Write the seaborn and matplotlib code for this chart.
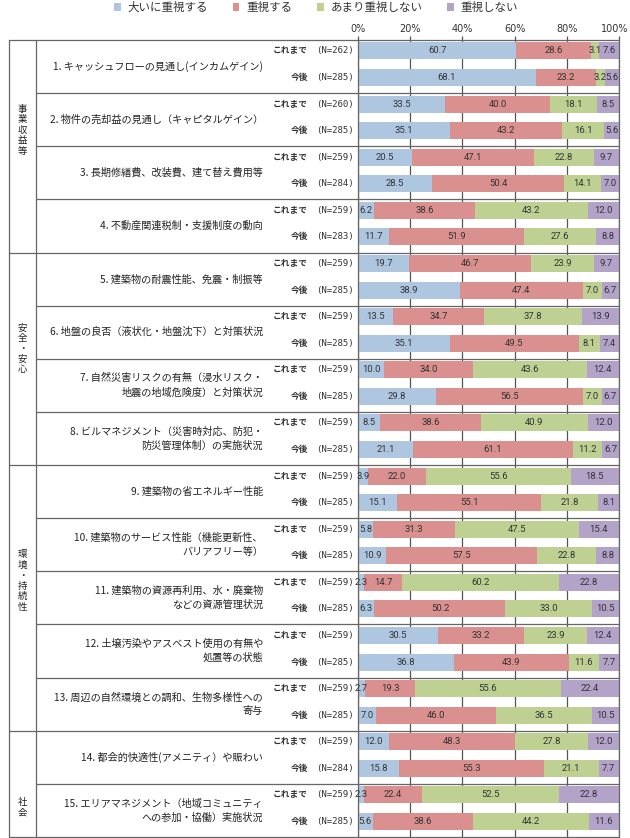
import numpy as np
import pandas as pd
import matplotlib
matplotlib.use('Agg')
import matplotlib.pyplot as plt
import matplotlib.transforms as mtransforms
import seaborn as sns

# answer levels and colours
levels = ['大いに重視する', '重視する', 'あまり重視しない', '重視しない']
level_colors = ['#afc6e1', '#d9908e', '#bed193', '#b3a3c9']

# item labels (two rows each: これまで / 今後)
items = [
    '1. キャッシュフローの見通し(インカムゲイン)',
    '2. 物件の売却益の見通し（キャピタルゲイン）',
    '3. 長期修繕費、改装費、建て替え費用等',
    '4. 不動産関連税制・支援制度の動向',
    '5. 建築物の耐震性能、免震・制振等',
    '6. 地盤の良否（液状化・地盤沈下）と対策状況',
    '7. 自然災害リスクの有無（浸水リスク・\n地震の地域危険度）と対策状況',
    '8. ビルマネジメント（災害時対応、防犯・\n防災管理体制）の実施状況',
    '9. 建築物の省エネルギー性能',
    '10. 建築物のサービス性能（機能更新性、\nバリアフリー等）',
    '11. 建築物の資源再利用、水・廃棄物\nなどの資源管理状況',
    '12. 土壌汚染やアスベスト使用の有無や\n処置等の状態',
    '13. 周辺の自然環境との調和、生物多様性への\n寄与',
    '14. 都会的快適性(アメニティ）や賑わい',
    '15. エリアマネジメント（地域コミュニティ\nへの参加・協働）実施状況',
]
periods = ['これまで', '今後']
n_sizes = [262, 285, 260, 285, 259, 284, 259, 283, 259, 285,
           259, 285, 259, 285, 259, 285, 259, 285, 259, 285,
           259, 285, 259, 285, 259, 285, 259, 284, 259, 285]

# groups of items
groups = ['事業収益等', '安全・安心', '環境・持続性', '社会']
group_sizes = [4, 4, 5, 2]

# percentages, row order = item1 これまで, item1 今後, item2 これまで, ...
very_important = [60.7, 68.1, 33.5, 35.1, 20.5, 28.5, 6.2, 11.7, 19.7, 38.9,
                  13.5, 35.1, 10.0, 29.8, 8.5, 21.1, 3.9, 15.1, 5.8, 10.9,
                  2.3, 6.3, 30.5, 36.8, 2.7, 7.0, 12.0, 15.8, 2.3, 5.6]
important = [28.6, 23.2, 40.0, 43.2, 47.1, 50.4, 38.6, 51.9, 46.7, 47.4,
             34.7, 49.5, 34.0, 56.5, 38.6, 61.1, 22.0, 55.1, 31.3, 57.5,
             14.7, 50.2, 33.2, 43.9, 19.3, 46.0, 48.3, 55.3, 22.4, 38.6]
not_very = [3.1, 3.2, 18.1, 16.1, 22.8, 14.1, 43.2, 27.6, 23.9, 7.0,
            37.8, 8.1, 43.6, 7.0, 40.9, 11.2, 55.6, 21.8, 47.5, 22.8,
            60.2, 33.0, 23.9, 11.6, 55.6, 36.5, 27.8, 21.1, 52.5, 44.2]
not_important = [7.6, 5.6, 8.5, 5.6, 9.7, 7.0, 12.0, 8.8, 9.7, 6.7,
                 13.9, 7.4, 12.4, 6.7, 12.0, 6.7, 18.5, 8.1, 15.4, 8.8,
                 22.8, 10.5, 12.4, 7.7, 22.4, 10.5, 12.0, 7.7, 22.8, 11.6]

sns.set_style('white')
plt.rcParams['font.family'] = ['Noto Sans CJK JP', 'DejaVu Sans']

W, H = 630, 838
fig = plt.figure(figsize=(W / 100, H / 100), dpi=100)
ax = fig.add_axes([358 / W, 1 - 837 / H, 261 / W, 797 / H])

df = pd.DataFrame({
    'row': [f'r{i:02d}' for i in range(len(n_sizes))],
    levels[0]: very_important,
    levels[1]: important,
    levels[2]: not_very,
    levels[3]: not_important,
})
cum = df[levels].cumsum(axis=1)

# stacked bars: draw cumulative totals from the longest to the shortest
for k in reversed(range(len(levels))):
    sns.barplot(x=cum[levels[k]], y=df['row'], order=df['row'], orient='h',
                color=level_colors[k], saturation=1, width=0.64,
                errorbar=None, linewidth=0, label=levels[k], ax=ax)
if ax.get_legend() is not None:
    ax.get_legend().remove()

top = -0.414
ax.set_xlim(0, 100)
ax.set_ylim(len(df) + top, top)
ax.set_xticks([0, 20, 40, 60, 80, 100])
ax.set_xticklabels(['0%', '20%', '40%', '60%', '80%', '100%'])
ax.xaxis.tick_top()
ax.tick_params(axis='x', length=3, width=0.9, color='#555555', pad=1.5,
               labelsize=7, labelcolor='#333333')
for lbl in ax.get_xticklabels():
    lbl.set_family('DejaVu Sans')
xt = ax.get_xticklabels()[-1]
xt.set_transform(xt.get_transform() + mtransforms.ScaledTranslation(-4 / 100, 0, fig.dpi_scale_trans))
ax.set_yticks([])
ax.set_xlabel('')
ax.set_ylabel('')
ax.grid(axis='x', color='#555555', lw=0.9)
ax.grid(axis='y', visible=False)
ax.set_axisbelow(True)
for sp in ax.spines.values():
    sp.set_visible(False)

# value labels
for i in range(len(df)):
    left = 0
    for lev in levels:
        v = df.loc[i, lev]
        ax.text(left + v / 2, i, f'{v:.1f}', ha='center', va='center',
                fontsize=6.8, color='#333333', family='Roboto')
        left += v

trans = mtransforms.blended_transform_factory(ax.transAxes, ax.transData)


def fx(px):
    return (px - 358) / 261


# row labels
for i, n in enumerate(n_sizes):
    ax.text(fx(354), i, f'(N={n})', ha='right', va='center', fontsize=6.5,
            family='DejaVu Sans Mono', color='#333333', transform=trans)
    ax.text(fx(308), i, periods[i % 2], ha='right', va='center', fontsize=6.3,
            fontweight='bold', color='#333333', transform=trans)

# item labels
for j, lab in enumerate(items):
    ax.text(fx(263), 2 * j + 1 + top, lab, ha='right', va='center', fontsize=7.3,
            linespacing=1.45, multialignment='right', color='#222222', transform=trans)

# table lines
line_kw = dict(color='#666666', lw=0.9, clip_on=False, transform=trans)
bounds = np.cumsum([0] + group_sizes)
for j in range(len(items) + 1):
    x0 = fx(8.5) if j in bounds else fx(36)
    ax.plot([x0, 1], [2 * j + top, 2 * j + top], **line_kw)
for xv in [fx(8.5), fx(36), 0, 1]:
    ax.plot([xv, xv], [top, len(df) + top], **line_kw)

# group labels, written vertically
group_center_px = [130.5, 349, 581, 808]
pitch = 10.5
for g, cpx in zip(groups, group_center_px):
    n = len(g)
    for c_i, ch in enumerate(g):
        py = cpx + (c_i - (n - 1) / 2) * pitch
        ax.text(fx(22.5), (py - 40) / 26.57 + top, ch, ha='center', va='center',
                fontsize=6.8, color='#222222', transform=trans)

handles, labels = ax.get_legend_handles_labels()
fig.legend(handles[::-1], labels[::-1], loc='center',
           bbox_to_anchor=(316 / W, 1 - 7.5 / H), ncol=4, frameon=False,
           fontsize=8.3, handlelength=0.6, handleheight=0.6, handletextpad=0.6,
           columnspacing=2.1, borderpad=0, labelcolor='#333333')

fig.savefig('out.png', dpi=100, facecolor='white')
